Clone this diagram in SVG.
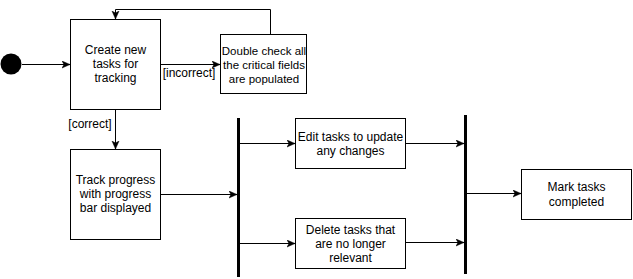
<svg xmlns="http://www.w3.org/2000/svg" width="633" height="279" viewBox="0 0 633 279">
  <style>
    .node rect { fill: #ffffff; stroke: #000000; stroke-width: 1; }
    .node text, .label { font-family: "Liberation Sans", Arial, Helvetica, sans-serif; font-size: 12px; fill: #000000; text-anchor: middle; }
    .node text.tight { font-size: 11.5px; }
    .edge { fill: none; stroke: #000000; stroke-width: 1; marker-end: url(#arrow); }
    .bar { stroke: #000000; stroke-width: 3; }
  </style>
  <defs>
    <marker id="arrow" markerUnits="userSpaceOnUse" markerWidth="10" markerHeight="10" refX="8" refY="4" orient="auto">
      <path d="M0,0.5 L8,4 L0,7.5 L2,4 Z" fill="#000000" stroke="#000000" stroke-width="0.5"/>
    </marker>
  </defs>
  <rect width="633" height="279" fill="#ffffff"/>

  <!-- start point -->
  <g id="start">
    <circle cx="11" cy="64" r="10.5" fill="#000000"/>
  </g>

  <g id="create" class="node">
    <rect x="70.5" y="19.5" width="90" height="90"/>
    <text x="115.5" y="54">Create new</text>
    <text x="115.5" y="68">tasks for</text>
    <text x="115.5" y="82">tracking</text>
  </g>

  <g id="check" class="node">
    <rect x="220.5" y="34.5" width="86" height="59"/>
    <text class="tight" x="264" y="54.5">Double check all</text>
    <text class="tight" x="264" y="68.5">the critical fields</text>
    <text class="tight" x="264" y="82.5">are populated</text>
  </g>

  <g id="track" class="node">
    <rect x="70.5" y="149.5" width="90" height="90"/>
    <text x="115.5" y="184">Track progress</text>
    <text x="115.5" y="198">with progress</text>
    <text x="115.5" y="212">bar displayed</text>
  </g>

  <g id="fork">
    <line class="bar" x1="238.5" y1="118" x2="238.5" y2="277"/>
  </g>

  <g id="edit" class="node">
    <rect x="295.5" y="118.5" width="110" height="50"/>
    <text x="350.5" y="140.5">Edit tasks to update</text>
    <text x="350.5" y="155">any changes</text>
  </g>

  <g id="delete" class="node">
    <rect x="295.5" y="218.5" width="110" height="50"/>
    <text x="350.5" y="234">Delete tasks that</text>
    <text x="350.5" y="248">are no longer</text>
    <text x="350.5" y="262">relevant</text>
  </g>

  <g id="join">
    <line class="bar" x1="465.5" y1="115" x2="465.5" y2="274"/>
  </g>

  <g id="complete" class="node">
    <rect x="521.5" y="169.5" width="110" height="50"/>
    <text x="576.5" y="191">Mark tasks</text>
    <text x="576.5" y="205.5">completed</text>
  </g>

  <!-- transitions -->
  <g id="connectors">
    <path class="edge" d="M22,64.5 H70"/>
    <path class="edge" d="M161,64.5 H220"/>
    <path class="edge" d="M270.5,34 V9.5 H115.5 V19"/>
    <path class="edge" d="M115.5,110 V149"/>
    <path class="edge" d="M161,194.5 H237"/>
    <path class="edge" d="M240,143.5 H295"/>
    <path class="edge" d="M240,243.5 H295"/>
    <path class="edge" d="M406,143.5 H464"/>
    <path class="edge" d="M406,242.5 H464"/>
    <path class="edge" d="M467,193.5 H521"/>
    <text class="label" x="189" y="77">[incorrect]</text>
    <text class="label" x="90" y="128">[correct]</text>
  </g>
</svg>
